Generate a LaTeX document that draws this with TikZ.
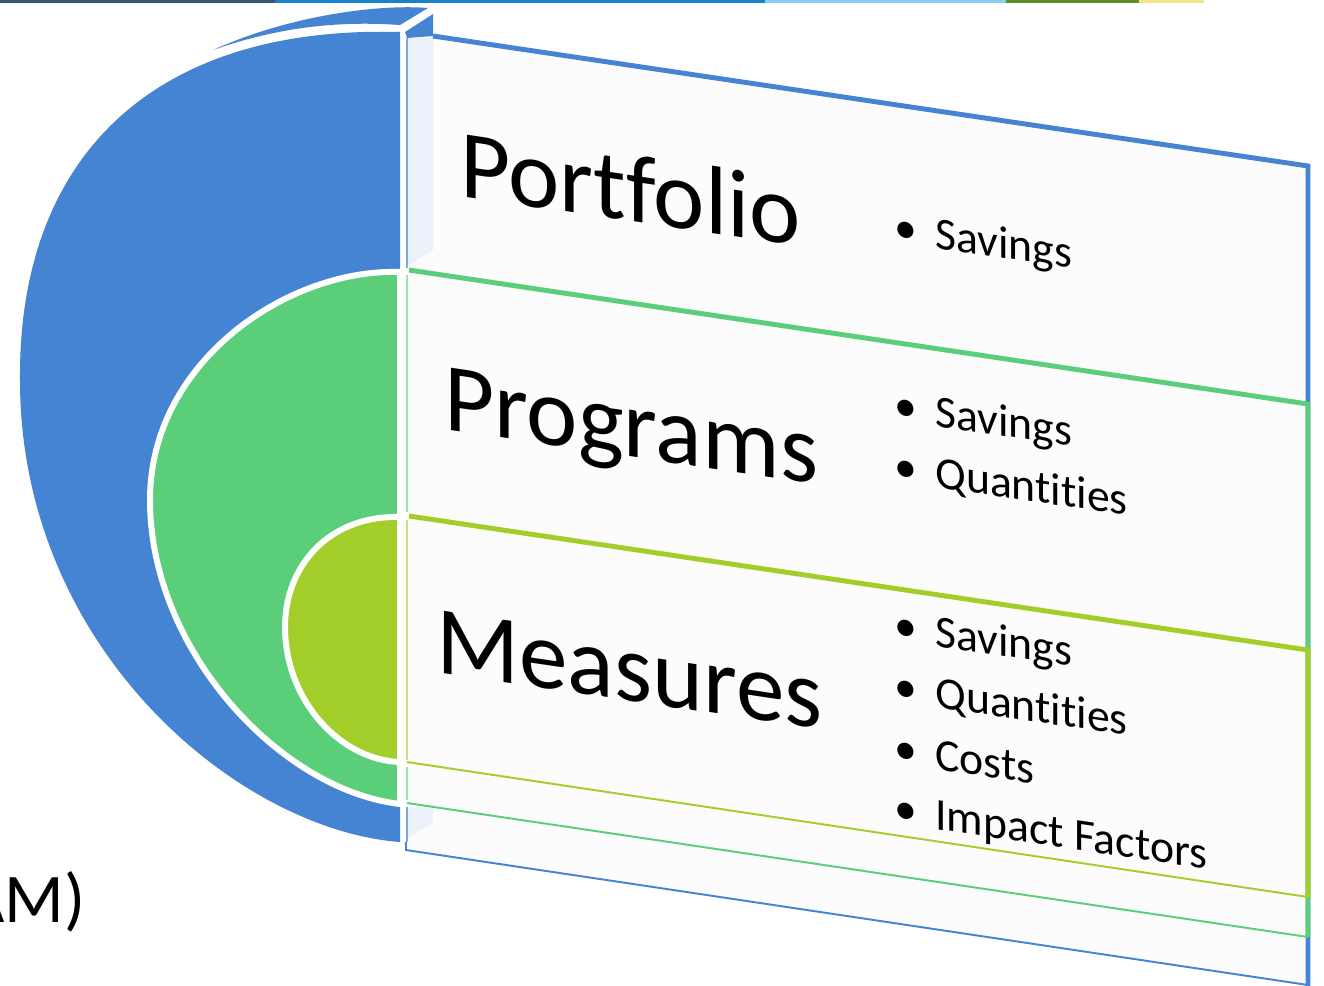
\documentclass[tikz,border=0pt]{standalone}
\usepackage{fontspec}
\setmainfont{Carlito}[Ligatures=NoCommon]
\definecolor{portblue}{RGB}{69,132,211}
\definecolor{proggreen}{RGB}{91,206,122}
\definecolor{measlime}{RGB}{163,206,42}
\definecolor{facefill}{RGB}{234,241,251}
\definecolor{panelfill}{RGB}{252,252,252}
\definecolor{barslate}{RGB}{52,86,120}
\definecolor{barblue}{RGB}{24,130,204}
\definecolor{barsky}{RGB}{134,207,245}
\definecolor{barolive}{RGB}{95,143,42}
\definecolor{barsand}{RGB}{242,229,140}
\newcommand{\itemdot}{\llap{\textbullet\hspace{10.5pt}}}
\tikzset{
  tiername/.style={font=\fontsize{55.3}{60}\selectfont, anchor=base west, inner sep=0pt, yslant=-0.148},
  bulletitem/.style={font=\fontsize{26}{31}\selectfont, anchor=base west, inner sep=0pt, yslant=-0.148},
  paneltop/.style={line width=2.8pt},
  panelbottom/.style={line width=1.1pt},
}
\begin{document}
\begin{tikzpicture}[x=0.02cm, y=-0.02cm]
    \useasboundingbox (0,0) rectangle (1324,985);

    % strip along the top
    \fill[barslate] (0,0) rectangle (275,2.5);
    \fill[barblue] (275,0) rectangle (765,2.5);
    \fill[barsky] (765,0) rectangle (1006,2.5);
    \fill[barolive] (1006,0) rectangle (1139,2.5);
    \fill[barsand] (1139,0) rectangle (1204,2.5);

    % nested half discs
    \fill[portblue] (400,32) .. controls (150,25) and (18,160) .. (20,380)
        .. controls (20,650) and (240,830) .. (400,842) -- cycle;
    \fill[portblue] (213,50) .. controls (290,15) and (380,4) .. (428,8) -- (400,25)
        .. controls (330,20) and (270,30) .. (213,50) -- cycle;
    \filldraw[fill=proggreen, draw=white, line width=3.4pt] (400,272) .. controls (290,268) and (150,360) .. (150,500)
        .. controls (150,650) and (280,790) .. (400,804) -- cycle;
    \filldraw[fill=measlime, draw=white, line width=3.4pt] (400,517) .. controls (330,515) and (285,565) .. (285,627)
        .. controls (285,700) and (340,760) .. (400,762) -- cycle;

    % outer panel
    \fill[panelfill] (433,36) -- (1308,166) -- (1308,985) -- (407,850) -- (407,38) -- cycle;
    \fill[facefill] (408,38) -- (433,38) -- (433,250) -- (408,266) -- cycle;
    \fill[facefill] (408,807) -- (433,808) -- (433,822) -- (408,838) -- cycle;
    \fill[portblue] (405,32) -- (433,14) -- (433,36) -- (407,38) -- cycle;
    \draw[portblue, paneltop] (433,36) -- (1308,166) -- (1308,990);
    \draw[portblue, panelbottom] (406,842) -- (406,850) -- (1308,985);
    \draw[portblue!70, line width=0.8pt] (407,38) -- (407,268) (407,807) -- (407,842);

    % middle panel
    \draw[proggreen, paneltop] (409,270) -- (1308,404) -- (1308,937);
    \draw[proggreen, panelbottom] (407,803) -- (1308,937);
    \draw[proggreen!60, line width=0.8pt] (407,275) -- (407,512) (407,767) -- (407,800);

    % inner panel
    \draw[measlime, paneltop] (409,516) -- (1308,650) -- (1308,897);
    \draw[measlime, panelbottom] (407,762) -- (1308,897);
    \draw[measlime!60, line width=0.8pt] (407,520) -- (407,760);

    % tier names
    \node[tiername] (portfolio) at (460,196) {Portfolio};
    \node[tiername] (programs) at (444,429) {Programs};
    \node[tiername] (measures) at (436,672) {Measures};

    % bullet lists
    \node[bulletitem] (portsavings) at (935,248) {\itemdot Savings};
    \node[bulletitem] (progsavings) at (935,426) {\itemdot Savings};
    \node[bulletitem] (progquant) at (935,487) {\itemdot Quantities};
    \node[bulletitem] (meassavings) at (935,646) {\itemdot Savings};
    \node[bulletitem] (measquant) at (935,707) {\itemdot Quantities};
    \node[bulletitem] (meascosts) at (935,769) {\itemdot Costs};
    \node[bulletitem] (measimpact) at (935,829) {\itemdot Impact Factors};

    % cut-off caption at the left
    \node[font=\fontsize{39.7}{44}\selectfont, anchor=base east, inner sep=0pt] (cutcaption) at (86,922) {AM)};
\end{tikzpicture}
\end{document}
